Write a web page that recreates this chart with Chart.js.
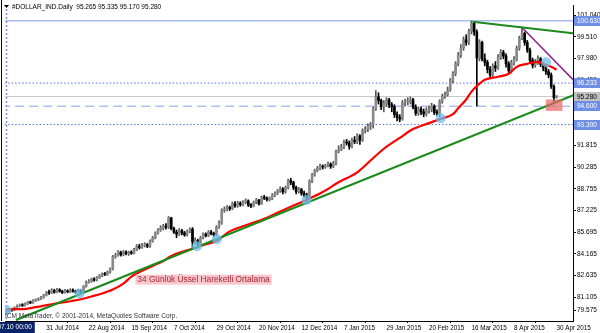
<!DOCTYPE html>
<html>
<head>
<meta charset="utf-8">
<script src="https://cdn.jsdelivr.net/npm/chart.js@4/dist/chart.umd.min.js"></script>
<style>
  html, body { margin: 0; padding: 0; background: #fff; }
  canvas { display: block; }
</style>
</head>
<body>
<canvas id="chart" width="600" height="333"></canvas>
<script>
// daily bars 2014.07.10 .. 2015.04.30, index = bar number
const opens = [80.05,80.12,80.22,80.18,80.36,80.48,80.55,80.50,80.62,80.74,
  80.70,80.86,80.90,80.98,81.08,81.22,81.42,81.40,81.58,81.45,
  81.62,81.52,81.42,81.55,81.48,81.60,81.52,81.45,81.58,81.50,
  81.85,82.15,82.22,82.38,82.30,82.48,82.62,82.75,82.70,82.88,
  83.10,83.95,84.05,84.28,84.10,84.30,84.18,84.25,84.22,84.45,
  84.70,84.62,84.75,84.80,84.70,85.05,85.30,85.62,85.85,86.00,
  86.10,86.05,86.70,85.95,85.70,85.55,85.80,85.65,85.50,85.75,
  85.90,85.00,85.10,84.90,85.30,85.55,85.45,85.70,85.60,85.50,
  86.05,86.35,87.25,87.30,87.45,87.35,87.70,87.55,87.75,87.65,
  87.80,87.90,87.60,87.55,87.80,87.95,87.70,88.15,88.10,88.00,
  88.05,88.30,88.45,88.60,88.75,88.55,88.85,89.35,89.20,88.85,
  88.55,88.70,88.45,88.30,88.15,89.30,89.75,90.05,90.20,90.35,
  90.30,90.40,90.50,90.35,90.55,91.40,91.55,91.70,92.05,92.00,
  91.75,92.20,92.10,92.50,92.20,92.85,92.95,93.20,93.30,94.40,
  95.25,95.00,94.55,94.80,95.05,94.70,94.55,94.00,93.80,93.70,
  94.85,94.90,94.95,95.05,94.55,94.10,94.40,94.20,94.05,94.30,
  94.35,94.60,94.15,94.10,94.95,95.30,95.40,95.75,96.40,96.90,
  97.60,98.20,98.70,99.30,99.10,99.90,100.45,99.85,98.00,99.10,
  97.95,97.70,97.20,96.80,97.45,97.30,98.05,98.40,98.15,97.60,
  97.10,97.65,97.90,98.70,99.40,99.75,99.10,98.55,97.85,97.50,
  97.70,97.95,97.55,97.30,97.05,96.80,96.00,95.265];
const highs = [80.25,80.30,80.32,80.42,80.55,80.62,80.64,80.70,80.80,80.82,
  80.92,80.98,81.05,81.15,81.30,81.50,81.60,81.70,81.66,81.72,
  81.70,81.60,81.65,81.62,81.70,81.68,81.60,81.66,81.64,81.92,
  82.25,82.35,82.45,82.48,82.55,82.70,82.82,82.85,82.95,83.18,
  84.05,84.20,84.40,84.35,84.40,84.38,84.35,84.38,84.55,84.82,
  84.85,84.90,84.95,84.90,85.15,85.40,85.72,85.95,86.15,86.25,
  86.30,86.80,86.75,86.05,85.85,85.95,85.90,85.75,85.85,86.00,
  86.02,85.30,85.20,85.40,85.65,85.65,85.80,85.82,85.70,86.15,
  86.50,87.35,87.48,87.58,87.55,87.82,87.85,87.88,87.85,87.92,
  88.05,87.98,87.72,87.90,88.08,88.02,88.25,88.30,88.20,88.18,
  88.42,88.55,88.72,88.90,88.85,88.95,89.45,89.50,89.30,88.95,
  88.85,88.80,88.60,88.45,89.40,89.85,90.15,90.35,90.50,90.45,
  90.50,90.65,90.60,90.70,91.50,91.80,91.90,92.20,92.25,92.15,
  92.35,92.45,92.65,92.60,93.00,93.15,93.35,93.45,94.55,95.70,
  95.55,95.10,95.00,95.20,95.15,94.85,94.70,94.20,94.00,95.00,
  95.10,95.20,95.25,95.15,94.70,94.55,94.55,94.40,94.50,94.60,
  94.80,94.70,94.35,95.05,95.45,95.60,95.95,96.55,97.05,97.75,
  98.40,98.95,99.50,99.65,100.05,100.62,100.55,100.00,99.30,99.20,
  98.30,97.85,97.40,97.60,97.75,98.25,98.60,98.55,98.30,97.75,
  97.85,98.10,98.85,99.55,100.20,99.85,99.25,98.70,98.00,97.90,
  98.15,98.05,97.70,97.45,97.20,96.95,96.10,95.335];
const lows = [79.98,80.05,80.10,80.15,80.30,80.42,80.44,80.46,80.58,80.64,
  80.66,80.80,80.85,80.92,81.02,81.18,81.30,81.35,81.38,81.40,
  81.45,81.35,81.38,81.40,81.42,81.45,81.38,81.40,81.42,81.46,
  81.80,82.08,82.15,82.22,82.25,82.42,82.55,82.62,82.64,82.80,
  83.02,83.85,84.00,84.00,84.02,84.08,84.05,84.12,84.15,84.38,
  84.50,84.55,84.65,84.60,84.62,84.98,85.22,85.55,85.75,85.85,
  85.90,85.95,85.85,85.60,85.30,85.45,85.50,85.40,85.42,85.65,
  84.55,84.85,84.70,84.82,85.22,85.35,85.38,85.50,85.35,85.42,
  85.95,86.25,87.10,87.20,87.22,87.28,87.45,87.45,87.52,87.55,
  87.70,87.50,87.42,87.48,87.70,87.60,87.65,88.00,87.88,87.90,
  87.98,88.20,88.35,88.50,88.40,88.45,88.75,89.05,88.70,88.40,
  88.45,88.30,88.15,87.90,88.10,89.20,89.65,89.95,90.10,90.15,
  90.20,90.30,90.20,90.25,90.45,91.30,91.45,91.60,91.85,91.55,
  91.65,91.95,91.95,91.90,92.10,92.70,92.80,92.95,93.05,94.30,
  94.75,94.35,94.20,94.60,94.50,94.20,93.80,93.55,93.50,93.60,
  94.60,94.70,94.75,94.40,93.95,93.95,94.00,93.85,93.90,94.10,
  94.20,94.00,93.95,93.85,94.80,95.15,95.30,95.65,96.25,96.75,
  97.45,98.05,98.55,98.90,98.95,99.70,99.60,94.60,97.80,97.80,
  97.45,96.95,96.55,96.60,97.05,97.20,97.90,97.95,97.35,96.90,
  96.95,97.50,97.80,98.55,99.30,98.90,98.40,97.65,97.30,97.35,
  97.55,97.40,97.10,96.85,96.60,95.85,94.95,95.17];
const closes = [80.12,80.22,80.18,80.36,80.48,80.55,80.50,80.62,80.74,80.70,
  80.86,80.90,80.98,81.08,81.22,81.42,81.40,81.58,81.45,81.62,
  81.52,81.42,81.55,81.48,81.60,81.52,81.45,81.58,81.50,81.85,
  82.15,82.22,82.38,82.30,82.48,82.62,82.75,82.70,82.88,83.10,
  83.95,84.05,84.28,84.10,84.30,84.18,84.25,84.22,84.45,84.70,
  84.62,84.75,84.80,84.70,85.05,85.30,85.62,85.85,86.00,86.10,
  86.05,86.70,85.95,85.70,85.55,85.80,85.65,85.50,85.75,85.90,
  85.00,85.10,84.90,85.30,85.55,85.45,85.70,85.60,85.50,86.05,
  86.35,87.25,87.30,87.45,87.35,87.70,87.55,87.75,87.65,87.80,
  87.90,87.60,87.55,87.80,87.95,87.70,88.15,88.10,88.00,88.05,
  88.30,88.45,88.60,88.75,88.55,88.85,89.35,89.20,88.85,88.55,
  88.70,88.45,88.30,88.15,89.30,89.75,90.05,90.20,90.35,90.30,
  90.40,90.50,90.35,90.55,91.40,91.55,91.70,92.05,92.00,91.75,
  92.20,92.10,92.50,92.20,92.85,92.95,93.20,93.30,94.40,95.25,
  95.00,94.55,94.80,95.05,94.70,94.55,94.00,93.80,93.70,94.85,
  94.90,94.95,95.05,94.55,94.10,94.40,94.20,94.05,94.30,94.35,
  94.60,94.15,94.10,94.95,95.30,95.40,95.75,96.40,96.90,97.60,
  98.20,98.70,99.30,99.10,99.90,100.45,99.85,98.00,99.10,97.95,
  97.70,97.20,96.80,97.45,97.30,98.05,98.40,98.15,97.60,97.10,
  97.65,97.90,98.70,99.40,99.75,99.10,98.55,97.85,97.50,97.70,
  97.95,97.55,97.30,97.05,96.80,96.00,95.20,95.28];

// 34 day EMA
const emaIdx = [0,6,11,17,24,28,32,36,40,44,47,51,55,59,62,67,71,74,79,84,
  92,98,102,107,113,119,125,132,137,142,148,153,159,163,168,170,173,175,178,180,
  185,189,192,196,200,202,205,207];
const emaVal = [80.25,80.25,80.39,80.60,80.81,80.95,81.15,81.36,81.64,82.06,
  82.55,82.96,83.31,83.66,84.01,84.36,84.57,84.78,85.06,85.75,
  86.30,86.72,87.07,87.49,87.98,88.53,89.22,89.92,90.76,91.59,
  92.36,92.98,93.40,93.68,94.03,94.45,95.07,95.63,96.19,96.47,
  96.68,96.89,97.38,97.59,97.73,97.59,97.38,97.17];

// time axis
const dateTicks = [15,31,47,63,79,95,111,127,143,159,175,191,207];
const dateLabels = ["31 Jul 2014","22 Aug 2014","15 Sep 2014","7 Oct 2014","29 Oct 2014",
  "20 Nov 2014","12 Dec 2014","7 Jan 2015","29 Jan 2015","20 Feb 2015",
  "16 Mar 2015","8 Apr 2015","30 Apr 2015"];
const cursorTime = "2014.07.10 00:00";

// price axis
const priceTicks = [81.105,82.635,84.165,85.695,87.225,88.755,90.285,91.815,94.920,96.450,97.980,99.510,101.040];
const bottomTick = 79.575;

// drawn objects
const levels = [100.630, 96.233, 94.600, 93.300];
const bidPrice = 95.280;
const supportLine = [[3.56, 79.484], [213.96, 95.42]];
const topLine = [[175.4, 100.57], [214, 99.735]];
const fallLine = [[194.1, 100.15], [214, 96.32]];
const touchIdx = [0, 27.5, 71.7, 79.2, 112.9, 163.4, 203.1];
const touchVal = [80.18, 81.36, 84.70, 85.19, 87.97, 93.75, 97.71];
const zoneIdx = 206.1;
const zoneRange = [94.29, 95.05];
const maLabel = "34 Günlük Üssel Hareketli Ortalama";
const maLabelAt = [48.5, 82.34];
const title = "#DOLLAR_IND.Daily  95.265 95.335 95.170 95.280";
const copyright = "ICM MetaTrader, © 2001-2014, MetaQuotes Software Corp.";

const FONT = "'Liberation Sans', Arial, sans-serif";
const toPts = pts => pts.map(p => ({x: p[0], y: p[1]}));

const levelStyle = [
  {dash: [], color: '#7f9be8'},
  {dash: [1.5, 2], color: '#4d6fe6'},
  {dash: [9, 5], color: '#88a2ee'},
  {dash: [1.5, 2], color: '#4d6fe6'}
];

const overlay = {
  id: 'overlay',
  beforeDatasetsDraw(chart) {
    const {ctx, chartArea: a, scales: {x}} = chart;
    const px = Math.round(x.getPixelForValue(0)) + 0.5;
    ctx.save();
    ctx.strokeStyle = '#8c8ce6';
    ctx.lineWidth = 1.5;
    ctx.setLineDash([2, 2]);
    ctx.beginPath();
    ctx.moveTo(px, a.top);
    ctx.lineTo(px, a.bottom);
    ctx.stroke();
    ctx.restore();
  },
  afterDraw(chart) {
    const {ctx, chartArea: a, scales: {x, y}} = chart;
    ctx.save();
    // frame on the left
    ctx.strokeStyle = '#000';
    ctx.lineWidth = 1;
    ctx.beginPath();
    ctx.moveTo(1.5, 0);
    ctx.lineTo(1.5, a.bottom);
    ctx.stroke();

    ctx.font = '6.5px ' + FONT;
    ctx.textBaseline = 'middle';
    // lowest price label, kept inside the axis
    ctx.fillStyle = '#000';
    ctx.textAlign = 'left';
    ctx.fillText(bottomTick.toFixed(3), a.right + 4, a.bottom - 11);
    ctx.fillRect(a.right, a.bottom - 11, 3, 1);

    // price boxes of the horizontal lines
    const box = (v, bg, fg) => {
      const py = Math.round(y.getPixelForValue(v));
      ctx.fillStyle = bg;
      ctx.fillRect(a.right + 1, py - 5, 600 - a.right - 1, 10);
      ctx.fillStyle = fg;
      ctx.fillText(v.toFixed(3), a.right + 4, py + 0.5);
    };
    box(bidPrice, '#c0c0c0', '#000');
    levels.forEach(v => box(v, '#6f8fe6', '#fff'));

    // cursor time box
    const cx = x.getPixelForValue(0);
    const tw = ctx.measureText(cursorTime).width + 6;
    ctx.fillStyle = '#0a246a';
    ctx.fillRect(cx - tw / 2, a.bottom + 1, tw, 11);
    ctx.fillStyle = '#fff';
    ctx.textAlign = 'center';
    ctx.fillText(cursorTime, cx, a.bottom + 6.5);

    // title
    ctx.fillStyle = '#000';
    ctx.beginPath();
    ctx.moveTo(4, 5); ctx.lineTo(9, 5); ctx.lineTo(6.5, 8); ctx.closePath();
    ctx.fill();
    ctx.textAlign = 'left';
    ctx.font = '6.5px ' + FONT;
    ctx.fillText(title, 12, 7);

    // copyright
    ctx.fillStyle = '#333';
    ctx.fillText(copyright, 5, a.bottom - 5);

    // indicator label
    ctx.font = '8.3px ' + FONT;
    const lx = x.getPixelForValue(maLabelAt[0]);
    const ly = y.getPixelForValue(maLabelAt[1]);
    const lw = ctx.measureText(maLabel).width + 4;
    ctx.fillStyle = '#f9c6cb';
    ctx.fillRect(lx, ly - 5, lw, 10);
    ctx.fillStyle = '#a3283a';
    ctx.fillText(maLabel, lx + 2, ly + 0.5);
    ctx.restore();
  }
};

const bull = '#8a8a8a', bear = '#000';

new Chart(document.getElementById('chart'), {
  type: 'bar',
  data: {
    datasets: [
      ...levels.map((v, k) => ({
        type: 'line', order: 20,
        data: [{x: -2, y: v}, {x: 216, y: v}],
        borderColor: levelStyle[k].color, borderWidth: 1, borderDash: levelStyle[k].dash,
        pointRadius: 0
      })),
      {
        type: 'line', order: 19,
        data: [{x: -2, y: bidPrice}, {x: 216, y: bidPrice}],
        borderColor: '#c8c8c8', borderWidth: 1, pointRadius: 0
      },
      {
        label: 'wick', order: 12, grouped: false,
        data: highs.map((h, i) => ({x: i, y: [lows[i], h]})),
        backgroundColor: closes.map((c, i) => c >= opens[i] ? '#555' : '#000'),
        barThickness: 1
      },
      {
        label: 'body', order: 11, grouped: false,
        data: closes.map((c, i) => ({x: i, y: [opens[i], c]})),
        backgroundColor: closes.map((c, i) => c >= opens[i] ? bull : bear),
        barThickness: 2, minBarLength: 1
      },
      {
        type: 'line', order: 5,
        data: emaIdx.map((v, k) => ({x: v, y: emaVal[k]})),
        borderColor: '#ff0000', borderWidth: 2.2, pointRadius: 0,
        cubicInterpolationMode: 'monotone'
      },
      {
        type: 'line', order: 4, data: toPts(supportLine),
        borderColor: '#1a8a1a', borderWidth: 2.2, pointRadius: 0
      },
      {
        type: 'line', order: 4, data: toPts(topLine),
        borderColor: '#1a8a1a', borderWidth: 2, pointRadius: 0
      },
      {
        type: 'line', order: 4, data: toPts(fallLine),
        borderColor: '#8e1f8e', borderWidth: 1.5, pointRadius: 0
      },
      {
        type: 'line', order: 3, showLine: false,
        data: touchIdx.map((v, k) => ({x: v, y: touchVal[k]})),
        pointRadius: 5, pointBorderWidth: 0,
        pointBackgroundColor: 'rgba(110,190,235,0.75)'
      },
      {
        label: 'zone', order: 2, grouped: false,
        data: [{x: zoneIdx, y: zoneRange}],
        backgroundColor: 'rgba(232,100,100,0.7)',
        barThickness: 16
      }
    ]
  },
  options: {
    responsive: false,
    animation: false,
    devicePixelRatio: 1,
    layout: {padding: {left: 2, top: 0, right: 0, bottom: 0}},
    plugins: {legend: {display: false}, tooltip: {enabled: false}},
    scales: {
      x: {
        type: 'linear', offset: false,
        min: -0.56, max: 213.2,
        afterFit: s => { s.height = 12; s.paddingLeft = 0; s.paddingRight = 0; },
        afterBuildTicks: s => { s.ticks = dateTicks.map(v => ({value: v})); },
        grid: {drawOnChartArea: false, drawTicks: true, tickLength: 2, color: '#000'},
        border: {display: true, color: '#000'},
        ticks: {
          autoSkip: false, maxRotation: 0, align: 'start', padding: 1,
          color: '#000', font: {family: FONT, size: 6.3},
          callback: v => dateLabels[dateTicks.indexOf(v)]
        }
      },
      y: {
        type: 'linear', position: 'right',
        min: 79.414, max: 101.752,
        afterFit: s => { s.width = 27; s.paddingTop = 0; s.paddingBottom = 0; },
        afterBuildTicks: s => { s.ticks = priceTicks.map(v => ({value: v})); },
        grid: {drawOnChartArea: false, drawTicks: true, tickLength: 3, color: '#000'},
        border: {display: true, color: '#000'},
        ticks: {
          padding: 1, color: '#000', font: {family: FONT, size: 6.5},
          callback: v => v.toFixed(3)
        }
      }
    }
  },
  plugins: [overlay]
});
</script>
</body>
</html>
